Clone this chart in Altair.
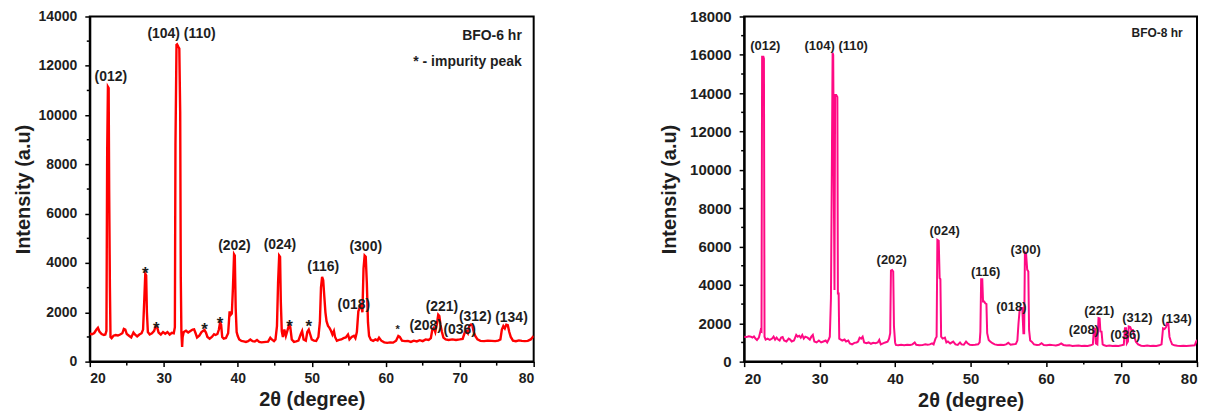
import altair as alt
import pandas as pd

# ---------------- BFO-6 hr pattern ----------------
theta_6 = [20.0, 20.3, 20.6, 20.9, 21.1, 21.3, 21.6, 21.9, 22.1, 22.25, 22.35, 22.45, 22.55, 22.62, 22.72, 22.8,
           22.95, 23.2, 23.5, 23.8, 24.1, 24.4, 24.6, 24.8, 25.0, 25.3, 25.6, 25.9, 26.1, 26.4, 26.7, 27.0,
           27.2, 27.35, 27.5, 27.62, 27.72, 27.85, 28.1, 28.4, 28.7, 28.9, 29.1, 29.3, 29.6, 29.9, 30.2, 30.5,
           30.8, 31.1, 31.35, 31.5, 31.58, 31.72, 31.8, 31.95, 32.1, 32.22, 32.3, 32.38, 32.48, 32.55, 32.7, 33.0,
           33.3, 33.6, 33.9, 34.1, 34.3, 34.5, 34.8, 35.1, 35.3, 35.5, 35.7, 35.9, 36.2, 36.5, 36.8, 37.0,
           37.25, 37.45, 37.6, 37.75, 37.9, 38.1, 38.4, 38.7, 38.9, 39.05, 39.2, 39.35, 39.5, 39.6, 39.72, 39.85,
           40.0, 40.2, 40.5, 40.8, 41.1, 41.4, 41.7, 42.0, 42.3, 42.6, 42.9, 43.2, 43.5, 43.8, 44.1, 44.4,
           44.6, 44.9, 45.1, 45.3, 45.45, 45.6, 45.72, 45.82, 45.95, 46.1, 46.3, 46.5, 46.75, 46.95, 47.1, 47.3,
           47.6, 47.9, 48.2, 48.5, 48.7, 48.9, 49.2, 49.4, 49.6, 49.8, 50.0, 50.3, 50.6, 50.9, 51.1, 51.25,
           51.4, 51.55, 51.7, 51.85, 52.0, 52.2, 52.4, 52.6, 52.8, 53.0, 53.15, 53.4, 53.7, 54.0, 54.3, 54.6,
           54.9, 55.1, 55.4, 55.7, 55.9, 56.1, 56.3, 56.5, 56.7, 56.85, 57.0, 57.15, 57.3, 57.45, 57.6, 57.75,
           58.0, 58.3, 58.6, 58.9, 59.1, 59.4, 59.8, 60.2, 60.6, 61.0, 61.4, 61.7, 61.9, 62.2, 62.6, 63.0,
           63.4, 63.8, 64.2, 64.6, 65.0, 65.4, 65.8, 66.1, 66.3, 66.5, 66.7, 66.9, 67.1, 67.25, 67.4, 67.6,
           67.8, 68.1, 68.5, 69.0, 69.5, 70.0, 70.4, 70.7, 70.9, 71.1, 71.3, 71.5, 71.7, 71.9, 72.1, 72.4,
           72.8, 73.3, 73.8, 74.3, 74.8, 75.2, 75.5, 75.7, 75.9, 76.1, 76.3, 76.5, 76.7, 76.9, 77.2, 77.6,
           78.0, 78.4, 78.8, 79.2, 79.6, 80.0]
int_6 = [1130, 1110, 1160, 1300, 1370, 1220, 1120, 1080, 1100, 1250, 8500, 11150, 11100, 6900, 3000, 1000,
         950, 1050, 1080, 1060, 1100, 1150, 1330, 1300, 1120, 1050, 980, 1180, 1100, 1020, 1100, 1150,
         1300, 2400, 3560, 3500, 2000, 1200, 1100, 1150, 1250, 1440, 1400, 1180, 1100, 1200, 1130, 1200,
         1100, 1170, 1150, 1400, 8800, 12850, 12870, 12780, 12700, 10100, 3400, 1200, 600, 1000, 1200, 1250,
         1180, 1240, 1300, 1310, 1150, 980, 1050, 1200, 1240, 1280, 1180, 1000, 930, 1000, 1110, 1080,
         1120, 1300, 1570, 1500, 1000, 930, 960, 1150, 2040, 1900, 1950, 3000, 4350, 4300, 2170, 1200,
         1040, 900, 840, 820, 800, 830, 900, 830, 820, 880, 800, 780, 790, 800, 810, 970,
         900, 830, 900, 1440, 3200, 4300, 4250, 2440, 1240, 1000, 1300, 1040, 1300, 1500, 1400, 900,
         800, 820, 850, 1100, 1240, 900, 850, 1200, 1300, 1100, 900, 850, 840, 1000, 1600, 3000,
         3440, 3300, 2640, 2000, 1640, 1450, 1370, 1250, 1100, 1240, 1000, 850, 880, 900, 950, 980,
         1100, 900, 1000, 1050, 950, 1200, 2040, 2200, 2300, 2000, 3770, 4300, 4250, 3170, 1600, 1040,
         880, 840, 900, 860, 970, 850, 780, 760, 780, 770, 850, 1040, 1000, 850, 830, 840,
         800, 850, 820, 870, 830, 900, 880, 950, 1300, 1370, 1200, 1500, 1900, 1850, 1500, 1200,
         973, 900, 880, 900, 880, 900, 920, 1200, 1240, 1150, 1450, 1500, 1480, 1200, 1040, 900,
         840, 830, 850, 840, 830, 850, 900, 1300, 1440, 1350, 1500, 1480, 1200, 1000, 850, 830,
         860, 840, 830, 840, 900, 1040]

# ---------------- BFO-8 hr pattern ----------------
theta_8 = [20.0, 20.3, 20.6, 20.9, 21.1, 21.3, 21.5, 21.7, 21.95, 22.2, 22.3, 22.38, 22.55, 22.62, 22.7, 22.85,
           23.1, 23.4, 23.7, 23.9, 24.1, 24.3, 24.5, 24.7, 24.9, 25.1, 25.3, 25.6, 25.9, 26.1, 26.3, 26.6,
           26.9, 27.1, 27.3, 27.5, 27.7, 27.9, 28.1, 28.4, 28.7, 28.9, 29.1, 29.3, 29.6, 29.9, 30.2, 30.5,
           30.8, 31.0, 31.2, 31.35, 31.5, 31.6, 31.72, 31.8, 31.9, 31.97, 32.05, 32.2, 32.35, 32.42, 32.52, 32.6,
           32.8, 33.0, 33.3, 33.5, 33.8, 34.0, 34.3, 34.6, 34.9, 35.1, 35.3, 35.5, 35.7, 35.9, 36.2, 36.5,
           36.8, 37.1, 37.4, 37.7, 37.9, 38.1, 38.4, 38.7, 39.0, 39.2, 39.35, 39.45, 39.6, 39.75, 39.85, 40.0,
           40.1, 40.4, 40.8, 41.2, 41.6, 42.0, 42.3, 42.6, 42.8, 43.2, 43.6, 44.0, 44.3, 44.6, 44.9, 45.1,
           45.35, 45.5, 45.6, 45.78, 45.9, 46.0, 46.1, 46.3, 46.6, 46.8, 47.0, 47.3, 47.7, 48.0, 48.3, 48.6,
           48.8, 49.1, 49.4, 49.6, 49.9, 50.2, 50.6, 51.0, 51.2, 51.3, 51.4, 51.55, 51.65, 51.8, 51.95, 52.1,
           52.2, 52.4, 52.6, 52.9, 53.2, 53.6, 54.0, 54.4, 54.7, 55.0, 55.3, 55.7, 56.0, 56.2, 56.35, 56.5,
           56.65, 56.85, 57.0, 57.1, 57.2, 57.35, 57.5, 57.65, 57.75, 57.9, 58.1, 58.4, 58.8, 59.1, 59.4, 59.7,
           60.1, 60.5, 60.9, 61.3, 61.7, 62.0, 62.3, 62.7, 63.1, 63.5, 63.9, 64.3, 64.7, 65.1, 65.5, 65.9,
           66.2, 66.35, 66.5, 66.6, 66.8, 66.95, 67.1, 67.2, 67.35, 67.5, 67.7, 68.0, 68.4, 68.8, 69.2, 69.6,
           70.0, 70.3, 70.45, 70.6, 70.7, 70.85, 70.95, 71.15, 71.3, 71.5, 71.7, 71.9, 72.2, 72.6, 73.0, 73.4,
           73.8, 74.2, 74.6, 75.0, 75.3, 75.5, 75.7, 75.9, 76.0, 76.2, 76.35, 76.5, 76.7, 77.0, 77.4, 77.8,
           78.2, 78.6, 79.0, 79.4, 79.7, 79.85, 80.0]
int_8 = [1300, 1280, 1320, 1300, 1250, 1310, 1200, 1130, 1250, 1650, 1600, 15900, 15900, 15800, 1300, 1150,
         1200, 1130, 1200, 1300, 1150, 1250, 1150, 1100, 1250, 1280, 1100, 1050, 1200, 1150, 1050, 1100,
         1390, 1300, 1350, 1250, 1390, 1200, 1300, 1250, 1150, 1300, 1390, 1050, 1000, 1100, 1000, 1050,
         1100, 1000, 1150, 1300, 3300, 9000, 16100, 16000, 8000, 3740, 13900, 13900, 13800, 3550, 3550, 1200,
         1150, 1100, 1150, 1050, 1100, 950, 900, 980, 1000, 1050, 1250, 1200, 1300, 1000, 960, 1000,
         930, 980, 960, 1000, 1130, 900, 950, 1000, 1044, 1200, 1480, 4750, 4780, 4700, 1830, 1000,
         870, 860, 880, 860, 880, 870, 900, 1000, 880, 850, 860, 900, 880, 900, 950, 900,
         1200, 1300, 6350, 6300, 4350, 4300, 1300, 1200, 1250, 1000, 1050, 950, 1044, 900, 870, 1000,
         900, 880, 1044, 960, 880, 870, 880, 900, 1000, 1566, 4300, 4300, 3130, 3130, 3040, 3000,
         1480, 1130, 1050, 960, 900, 870, 880, 870, 900, 980, 880, 900, 920, 1100, 2000, 2700,
         2800, 2800, 1480, 1480, 5700, 5650, 4800, 4700, 1650, 1100, 1040, 900, 870, 880, 960, 870,
         850, 880, 860, 840, 880, 950, 870, 840, 850, 820, 830, 840, 820, 830, 820, 850,
         900, 1740, 1700, 950, 900, 2270, 2250, 1570, 1560, 900, 850, 820, 840, 820, 830, 820,
         850, 880, 1740, 1740, 950, 1050, 1830, 1800, 1650, 1650, 1300, 1040, 900, 830, 820, 840,
         820, 830, 820, 850, 900, 1740, 1700, 1800, 2000, 2000, 1300, 1100, 900, 850, 830, 820,
         830, 820, 830, 840, 850, 1000, 1130]

# ---------------- annotations ----------------
peaks_6 = ["(012)", "(104) (110)", "(202)", "(024)", "(116)", "(300)", "(018)", "(221)", "(208)", "(036)", "(312)", "(134)"]
peaks_6_x = [22.85, 32.4, 39.55, 45.7, 51.55, 57.3, 55.7, 67.6, 65.4, 70.0, 72.1, 77.0]
peaks_6_y = [11560, 13280, 4670, 4730, 3840, 4640, 2300, 2200, 1440, 1270, 1800, 1770]

stars_6 = ["*", "*", "*", "*", "*", "*"]
stars_6_x = [27.5, 29.0, 35.5, 37.6, 47.0, 49.6]
stars_6_y = [3700, 1500, 1440, 1680, 1570, 1570]
small_star_x = [61.6]
small_star_y = [1373]

notes_6 = ["BFO-6 hr", "* - impurity peak"]
notes_6_x = [78.4, 78.4]
notes_6_y = [13200, 12160]

peaks_8 = ["(012)", "(104) (110)", "(202)", "(024)", "(116)", "(300)", "(018)", "(221)", "(208)", "(036)", "(312)", "(134)"]
peaks_8_x = [22.8, 32.2, 39.55, 46.56, 52.0, 57.3, 55.4, 67.05, 65.0, 70.5, 72.1, 77.3]
peaks_8_y = [16440, 16440, 5310, 6790, 4650, 5800, 2840, 2660, 1650, 1390, 2265, 2210]

notes_8 = ["BFO-8 hr"]
notes_8_x = [78.1]
notes_8_y = [17140]

major_x = [20, 30, 40, 50, 60, 70, 80]
minor_x = [25, 35, 45, 55, 65, 75]

FONT = "Liberation Sans"
INK = "#1e1e1e"


def panel(theta, inten, color, stroke, ymax, w, h, peaks, px, py, notes, nx, ny, note_size, peak_size,
          label_size, ytitle_pad):
    xs = alt.Scale(domain=[20, 80], nice=False, zero=False)
    ys = alt.Scale(domain=[0, ymax], nice=False)
    ax = alt.Axis(title="2θ (degree)", values=major_x, format="d", titlePadding=4, labelPadding=5,
                  labelFontSize=label_size)
    ay = alt.Axis(title="Intensity (a.u)", values=list(range(0, ymax + 1, 2000)), format="d",
                  titlePadding=ytitle_pad, labelPadding=8, labelFontSize=label_size)
    df = pd.DataFrame({"theta": theta, "intensity": inten})
    line = alt.Chart(df).mark_line(color=color, strokeWidth=stroke, clip=True).encode(
        x=alt.X("theta:Q", scale=xs, axis=ax),
        y=alt.Y("intensity:Q", scale=ys, axis=ay),
    )
    minor_y = list(range(1000, ymax, 2000))
    mx = alt.Chart(pd.DataFrame({"v": minor_x})).mark_rule(color="black", strokeWidth=1.5).encode(
        x=alt.X("v:Q", scale=xs, axis=ax), y=alt.value(h), y2=alt.value(h + 3))
    my = alt.Chart(pd.DataFrame({"v": minor_y})).mark_rule(color="black", strokeWidth=1.5).encode(
        y=alt.Y("v:Q", scale=ys, axis=ay), x=alt.value(0), x2=alt.value(-3))
    lab = alt.Chart(pd.DataFrame({"x": px, "y": py, "t": peaks})).mark_text(
        font=FONT, fontWeight="bold", fontSize=peak_size, color=INK, align="center", baseline="middle").encode(
        x=alt.X("x:Q", scale=xs, axis=ax), y=alt.Y("y:Q", scale=ys, axis=ay), text="t:N")
    note = alt.Chart(pd.DataFrame({"x": nx, "y": ny, "t": notes})).mark_text(
        font=FONT, fontWeight="bold", fontSize=note_size, color=INK, align="right", baseline="middle").encode(
        x=alt.X("x:Q", scale=xs, axis=ax), y=alt.Y("y:Q", scale=ys, axis=ay), text="t:N")
    return [line, mx, my, lab, note], xs, ys, ax, ay


layers6, xs6, ys6, ax6, ay6 = panel(theta_6, int_6, "#ff0000", 2.4, 14000, 445, 347,
                                    peaks_6, peaks_6_x, peaks_6_y, notes_6, notes_6_x, notes_6_y, 14, 14,
                                    14, 5)
star_layer = alt.Chart(pd.DataFrame({"x": stars_6_x, "y": stars_6_y, "t": stars_6})).mark_text(
    font=FONT, fontWeight="bold", fontSize=17, color=INK, align="center", baseline="middle", dy=4).encode(
    x=alt.X("x:Q", scale=xs6, axis=ax6), y=alt.Y("y:Q", scale=ys6, axis=ay6), text="t:N")
small_star = alt.Chart(pd.DataFrame({"x": small_star_x, "y": small_star_y, "t": ["*"]})).mark_text(
    font=FONT, fontWeight="bold", fontSize=11, color=INK, align="center", baseline="middle", dy=2).encode(
    x=alt.X("x:Q", scale=xs6, axis=ax6), y=alt.Y("y:Q", scale=ys6, axis=ay6), text="t:N")
left = alt.layer(*layers6, star_layer, small_star).properties(width=445, height=346)

layers8, xs8, ys8, ax8, ay8 = panel(theta_8, int_8, "#ff0a84", 2.0, 18000, 454, 346,
                                    peaks_8, peaks_8_x, peaks_8_y, notes_8, notes_8_x, notes_8_y, 12, 13,
                                    15, 10)
right = alt.layer(*layers8).properties(width=454, height=346)

chart = alt.hconcat(left, right, spacing=123).properties(
    padding={"left": 4, "top": 0, "right": 2, "bottom": 0}
).configure_view(
    stroke="black", strokeWidth=2
).configure_axis(
    domainColor="black", domainWidth=2, tickColor="black", tickWidth=1.5, tickSize=5,
    labelFont=FONT, labelFontWeight="bold", labelFontSize=14, labelColor=INK,
    titleFont=FONT, titleFontWeight="bold", titleFontSize=20, titleColor=INK, grid=False,
)

chart.save("out.html", embed_options={"renderer": "svg", "actions": False})
